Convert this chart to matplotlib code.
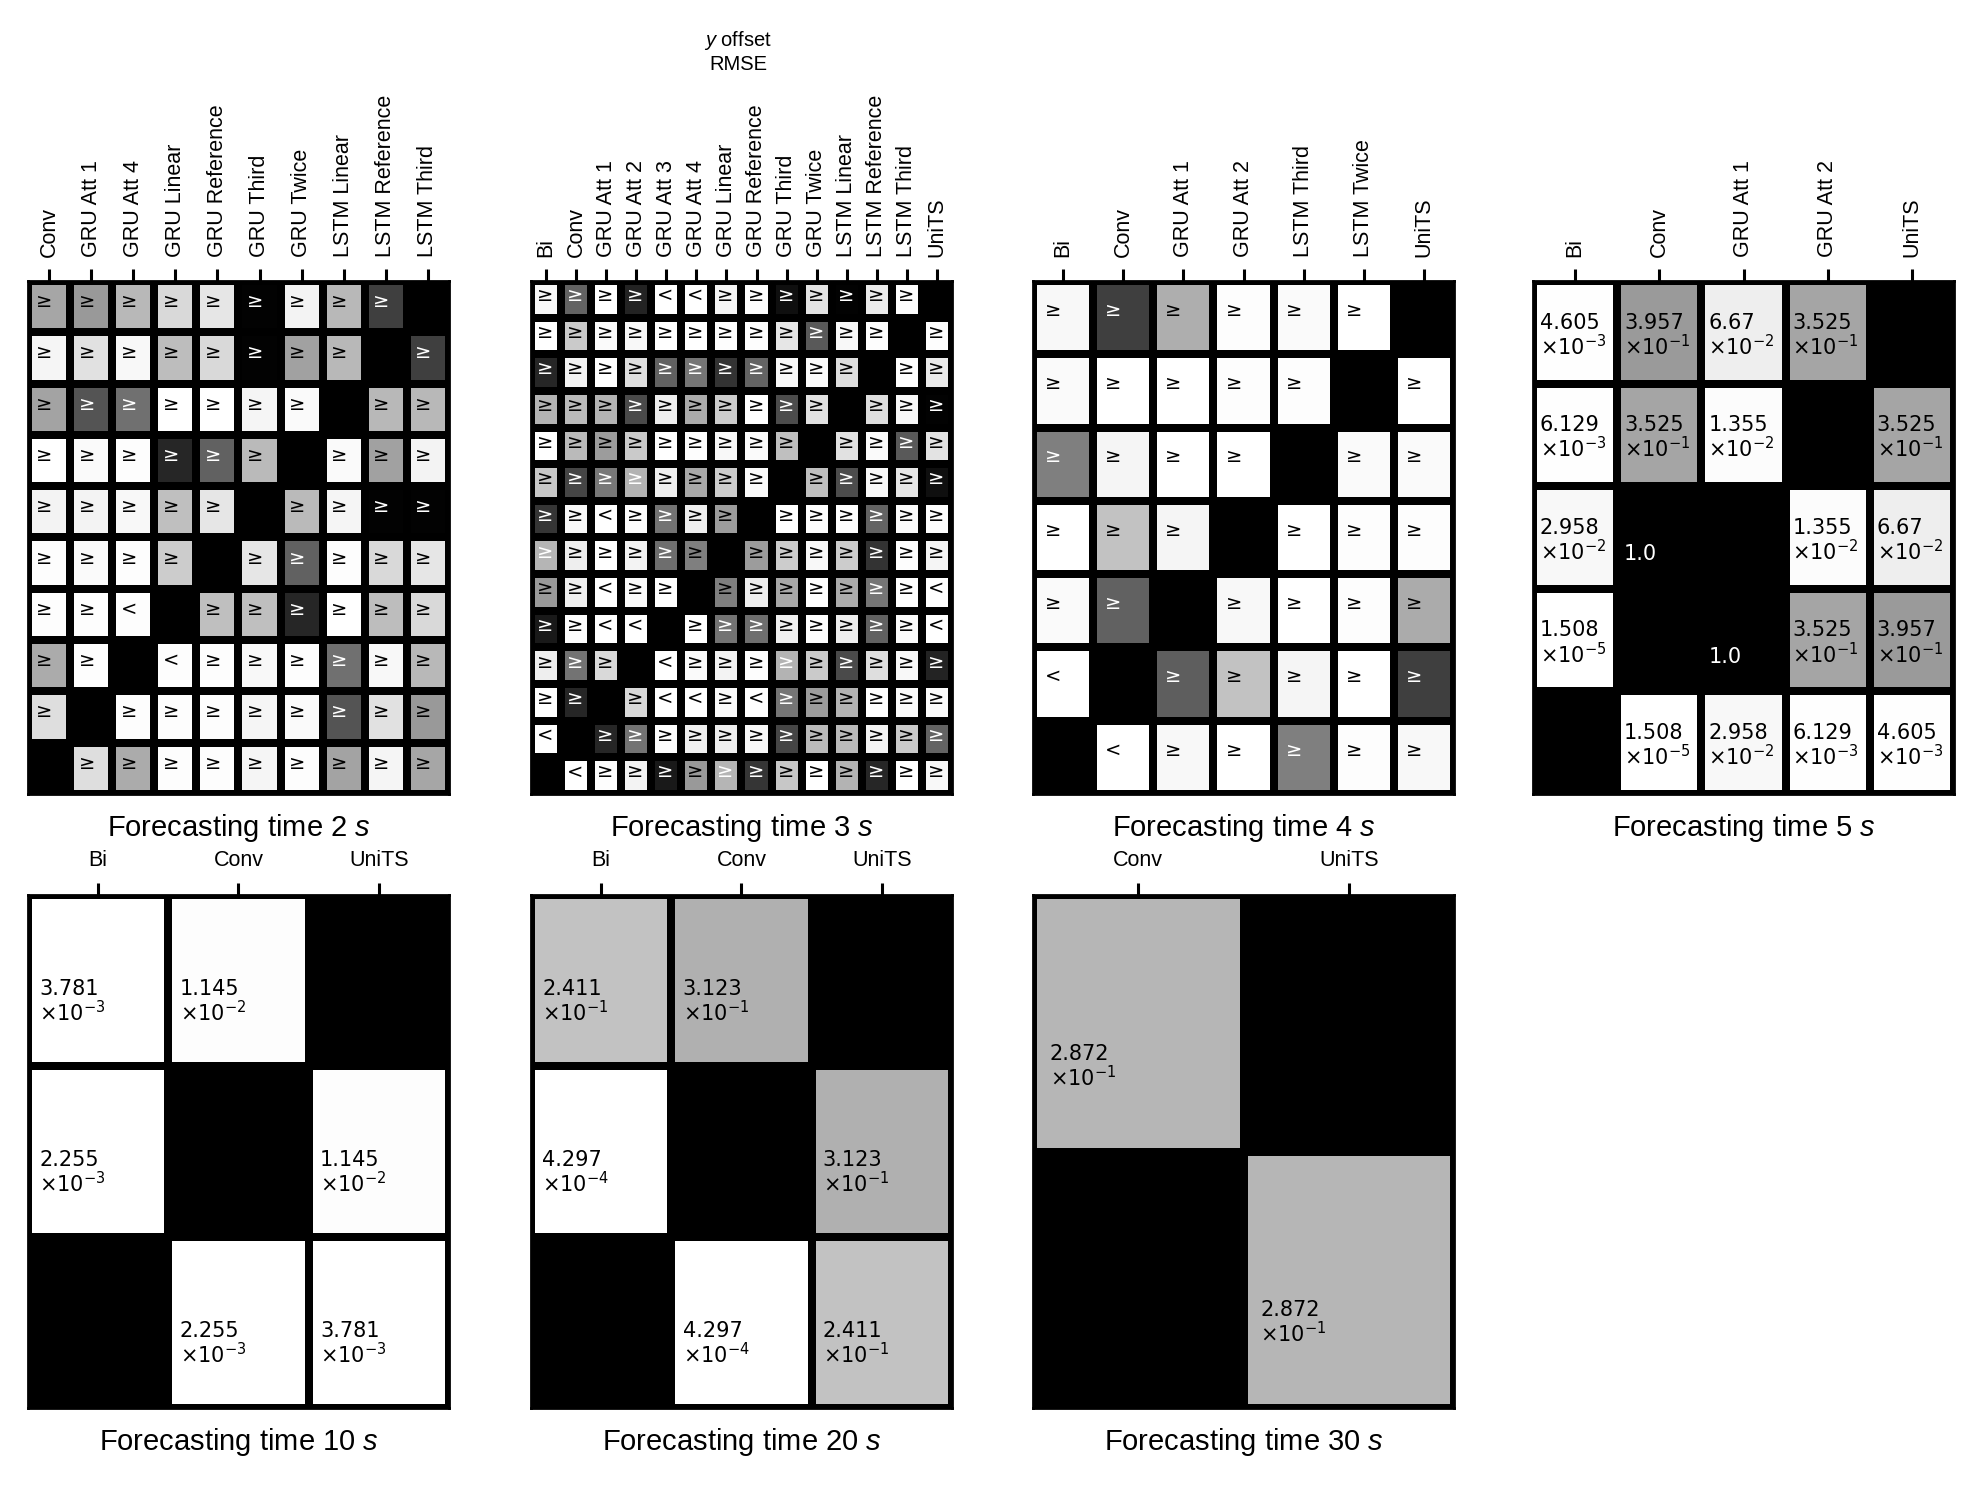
import numpy as np
import matplotlib
matplotlib.use("Agg")
import matplotlib.pyplot as plt

plt.rcParams['font.family'] = ['Liberation Sans', 'DejaVu Sans']
plt.rcParams['mathtext.fontset'] = 'custom'
plt.rcParams['mathtext.rm'] = 'Liberation Sans'
plt.rcParams['mathtext.it'] = 'Liberation Sans:italic'

nan = np.nan

# ---------------- data ----------------
labels_2s = ["Conv", "GRU Att 1", "GRU Att 4", "GRU Linear", "GRU Reference",
             "GRU Third", "GRU Twice", "LSTM Linear", "LSTM Reference", "LSTM Third"]
pvals_2s = [
    [0.35, 0.40, 0.28, 0.15, 0.10, 0.99, 0.05, 0.28, 0.75, nan],
    [0.04, 0.12, 0.03, 0.26, 0.15, 0.99, 0.37, 0.28, nan, 0.75],
    [0.36, 0.67, 0.56, 0.00, 0.00, 0.04, 0.02, nan, 0.28, 0.28],
    [0.00, 0.02, 0.01, 0.85, 0.62, 0.27, nan, 0.02, 0.37, 0.05],
    [0.05, 0.05, 0.03, 0.25, 0.10, nan, 0.27, 0.04, 0.99, 0.99],
    [0.01, 0.02, 0.01, 0.20, nan, 0.10, 0.62, 0.01, 0.15, 0.10],
    [0.01, 0.01, 0.01, nan, 0.25, 0.25, 0.85, 0.00, 0.26, 0.15],
    [0.33, 0.01, nan, 0.01, 0.01, 0.03, 0.01, 0.56, 0.03, 0.28],
    [0.13, nan, 0.01, 0.01, 0.01, 0.04, 0.02, 0.67, 0.12, 0.40],
    [nan, 0.13, 0.33, 0.01, 0.01, 0.04, 0.01, 0.36, 0.04, 0.35],
]
signs_2s = [
    "gggggGggG.",
    "gggggGgg.G",
    "gGGgggg.gg",
    "gggGGg.ggg",
    "ggggg.ggGG",
    "gggg.gGggg",
    "ggl.ggGggg",
    "gg.lgggGgg",
    "g.gggggGgg",
    ".ggggggggg",
]

labels_3s = ["Bi", "Conv", "GRU Att 1", "GRU Att 2", "GRU Att 3", "GRU Att 4",
             "GRU Linear", "GRU Reference", "GRU Third", "GRU Twice",
             "LSTM Linear", "LSTM Reference", "LSTM Third", "UniTS"]
pvals_3s = [
    [0.03, 0.61, 0.00, 0.86, 0.00, 0.00, 0.04, 0.01, 0.94, 0.11, 0.99, 0.08, 0.01, nan],
    [0.00, 0.21, 0.02, 0.03, 0.00, 0.00, 0.01, 0.01, 0.10, 0.65, 0.03, 0.01, nan, 0.01],
    [0.85, 0.05, 0.00, 0.13, 0.62, 0.54, 0.80, 0.61, 0.03, 0.02, 0.13, nan, 0.01, 0.08],
    [0.30, 0.27, 0.30, 0.71, 0.07, 0.33, 0.20, 0.00, 0.70, 0.12, nan, 0.13, 0.03, 0.99],
    [0.00, 0.27, 0.39, 0.21, 0.00, 0.01, 0.03, 0.02, 0.25, nan, 0.12, 0.02, 0.65, 0.11],
    [0.22, 0.73, 0.53, 0.30, 0.07, 0.34, 0.20, 0.02, nan, 0.25, 0.70, 0.03, 0.10, 0.94],
    [0.79, 0.03, 0.00, 0.01, 0.55, 0.07, 0.39, nan, 0.00, 0.01, 0.01, 0.61, 0.02, 0.01],
    [0.29, 0.07, 0.00, 0.05, 0.57, 0.50, nan, 0.39, 0.20, 0.03, 0.20, 0.80, 0.01, 0.04],
    [0.40, 0.06, 0.00, 0.02, 0.00, nan, 0.50, 0.07, 0.34, 0.01, 0.33, 0.54, 0.01, 0.00],
    [0.90, 0.01, 0.00, 0.00, nan, 0.00, 0.55, 0.57, 0.06, 0.01, 0.07, 0.62, 0.02, 0.00],
    [0.07, 0.55, 0.15, nan, 0.00, 0.02, 0.05, 0.01, 0.30, 0.21, 0.71, 0.13, 0.03, 0.86],
    [0.00, 0.85, nan, 0.15, 0.00, 0.00, 0.02, 0.00, 0.54, 0.39, 0.30, 0.01, 0.02, 0.02],
    [0.00, nan, 0.85, 0.55, 0.01, 0.06, 0.07, 0.03, 0.73, 0.27, 0.27, 0.05, 0.21, 0.61],
    [nan, 0.00, 0.01, 0.05, 0.90, 0.40, 0.29, 0.79, 0.22, 0.00, 0.30, 0.85, 0.00, 0.03],
]
signs_3s = [
    "gGgGllggGgGgg.",
    "gggggggggGgg.g",
    "GgggGGGGggg.gg",
    "gggGggggGg.ggG",
    "ggggggggg.ggGg",
    "gGGGgggg.gGggG",
    "GglgGgg.gggGgg",
    "GgggGg.ggggGgg",
    "gglgg.gggggGgl",
    "Ggll.gGGgggGgl",
    "gGg.lgggGgGggG",
    "gG.gllglGggggg",
    "l.GGggggGggggG",
    ".lggGgGGgggGgg",
]

labels_4s = ["Bi", "Conv", "GRU Att 1", "GRU Att 2", "LSTM Third", "LSTM Twice", "UniTS"]
pvals_4s = [
    [0.03, 0.75, 0.32, 0.01, 0.02, 0.00, nan],
    [0.02, 0.00, 0.00, 0.01, 0.01, nan, 0.00],
    [0.50, 0.04, 0.00, 0.00, nan, 0.02, 0.02],
    [0.00, 0.24, 0.04, nan, 0.00, 0.01, 0.01],
    [0.02, 0.62, nan, 0.03, 0.00, 0.01, 0.33],
    [0.00, nan, 0.63, 0.24, 0.04, 0.00, 0.75],
    [nan, 0.00, 0.03, 0.00, 0.50, 0.01, 0.03],
]
signs_4s = [
    "gGgggg.",
    "ggggg.g",
    "Gggg.gg",
    "ggg.ggg",
    "gG.gggg",
    "l.GgggG",
    ".lggGgg",
]

labels_5s = ["Bi", "Conv", "GRU Att 1", "GRU Att 2", "UniTS"]
pvals_5s = [
    [4.605e-3, 3.957e-1, 6.67e-2, 3.525e-1, nan],
    [6.129e-3, 3.525e-1, 1.355e-2, nan, 3.525e-1],
    [2.958e-2, 1.0, nan, 1.355e-2, 6.67e-2],
    [1.508e-5, nan, 1.0, 3.525e-1, 3.957e-1],
    [nan, 1.508e-5, 2.958e-2, 6.129e-3, 4.605e-3],
]

labels_10s = ["Bi", "Conv", "UniTS"]
pvals_10s = [
    [3.781e-3, 1.145e-2, nan],
    [2.255e-3, nan, 1.145e-2],
    [nan, 2.255e-3, 3.781e-3],
]

labels_20s = ["Bi", "Conv", "UniTS"]
pvals_20s = [
    [2.411e-1, 3.123e-1, nan],
    [4.297e-4, nan, 3.123e-1],
    [nan, 4.297e-4, 2.411e-1],
]

labels_30s = ["Conv", "UniTS"]
pvals_30s = [
    [2.872e-1, nan],
    [nan, 2.872e-1],
]

times = [2, 3, 4, 5, 10, 20, 30]
panels = [
    (labels_2s, pvals_2s, signs_2s),
    (labels_3s, pvals_3s, signs_3s),
    (labels_4s, pvals_4s, signs_4s),
    (labels_5s, pvals_5s, None),
    (labels_10s, pvals_10s, None),
    (labels_20s, pvals_20s, None),
    (labels_30s, pvals_30s, None),
]
sign_map = {'g': ('\u2265', 'black'), 'G': ('\u2265', 'white'),
            'l': ('<', 'black'), 'L': ('<', 'white')}


def fmt(p):
    if p >= 1:
        return '1.0'
    e = int(np.floor(np.log10(p)))
    m = p / 10 ** e
    s = f'{m:.3f}'.rstrip('0').rstrip('.')
    return s + '\n' + r'$\times10^{%d}$' % e


fig = plt.figure(figsize=(19.82, 14.86), dpi=100)
lefts = [0.01413, 0.2679, 0.5212, 0.7735]
bottoms = [0.4657, 0.0525]
w, h = 0.2124, 0.3452

for k, (t, (labels, pv, sg)) in enumerate(zip(times, panels)):
    ax = fig.add_axes([lefts[k % 4], bottoms[k // 4], w, h])
    P = np.array(pv, dtype=float)
    n = len(labels)
    edges = np.arange(n + 1) - 0.5
    ax.set_facecolor('black')
    ax.pcolormesh(edges, edges, np.ma.masked_invalid(P), cmap='gray_r',
                  vmin=0, vmax=1, edgecolors='black', linewidth=4.6)
    ax.set_xlim(-0.5, n - 0.5)
    ax.set_ylim(n - 0.5, -0.5)
    ax.xaxis.tick_top()
    ax.set_xticks(range(n))
    ax.set_xticklabels(labels, rotation=90 if n > 3 else 0)
    ax.set_yticks([])
    ax.tick_params(axis='x', length=8.5, width=2.2, pad=9, labelsize=15.5,
                   colors='black')
    for sp in ax.spines.values():
        sp.set_linewidth(2)
        sp.set_color('black')
    for r in range(n):
        for c in range(n):
            p = P[r, c]
            if np.isnan(p):
                continue
            if sg is not None:
                ch = sg[r][c]
                if ch == '.':
                    continue
                sym, col = sign_map[ch]
                ax.text(c - 0.5 + 0.2, r - 0.1, sym, ha='left', va='center',
                        fontsize=14, color=col, family='DejaVu Sans')
            else:
                col = 'white' if p >= 0.5 else 'black'
                ax.text(c - 0.5 + 0.08, r + 0.26, fmt(p), ha='left', va='bottom',
                        fontsize=15, color=col, family='DejaVu Sans',
                        math_fontfamily='dejavusans', linespacing=1.05)
    ax.annotate(f'Forecasting time {t} $s$', xy=(0.5, 0), xycoords='axes fraction',
                xytext=(0, -13), textcoords='offset points', ha='center', va='top',
                fontsize=21)

fig.text(738 / 1982, 1 - 52 / 1486, '$y$ offset\nRMSE', ha='center', va='center',
         fontsize=14.5)

fig.savefig('out.png', dpi=100)
